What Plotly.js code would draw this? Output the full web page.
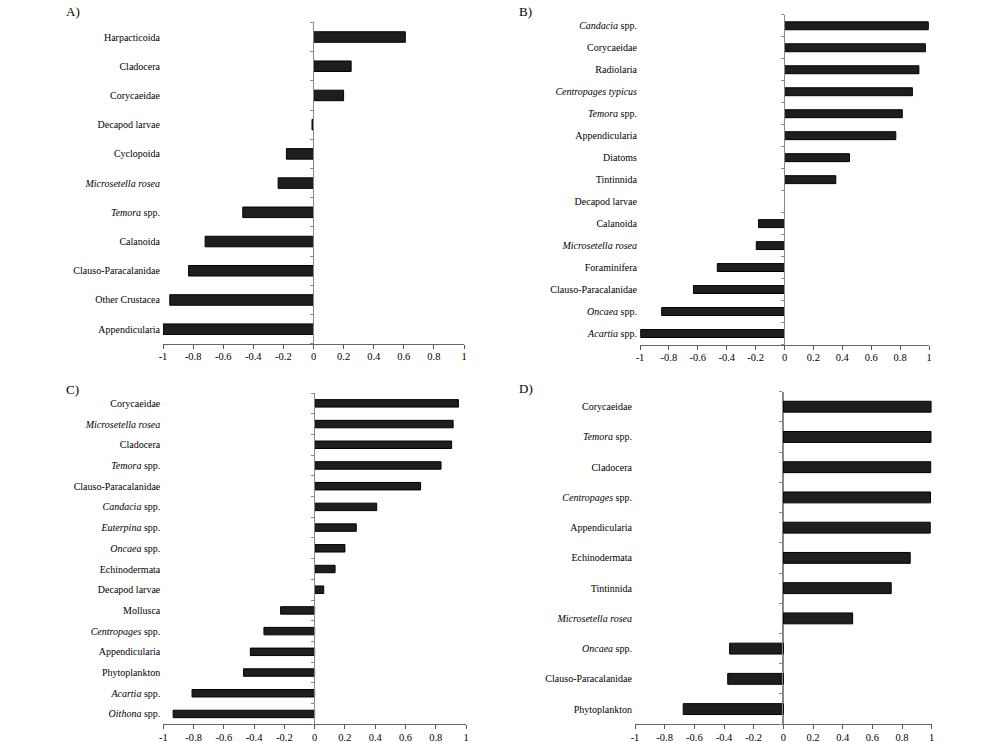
<!DOCTYPE html>
<html>
<head>
<meta charset="utf-8">
<script src="https://cdn.plot.ly/plotly-3.0.1.min.js"></script>
<style>html,body{margin:0;padding:0;background:#fff;}#chart{width:998px;height:742px;}</style>
</head>
<body>
<div id="chart"></div>
<script>
// ---- Data (top-to-bottom order as in the figure) ----
var catsA = ["Harpacticoida", "Cladocera", "Corycaeidae", "Decapod larvae", "Cyclopoida",
  "<i>Microsetella rosea</i>", "<i>Temora</i> spp.", "Calanoida", "Clauso-Paracalanidae",
  "Other Crustacea", "Appendicularia"];
var valsA = [0.61, 0.25, 0.20, -0.01, -0.18, -0.235, -0.47, -0.72, -0.83, -0.955, -1.0];

var catsB = ["<i>Candacia</i> spp.", "Corycaeidae", "Radiolaria", "<i>Centropages typicus</i>",
  "<i>Temora</i> spp.", "Appendicularia", "Diatoms", "Tintinnida", "Decapod larvae", "Calanoida",
  "<i>Microsetella rosea</i>", "Foraminifera", "Clauso-Paracalanidae", "<i>Oncaea</i> spp.",
  "<i>Acartia</i> spp."];
var valsB = [0.995, 0.975, 0.93, 0.885, 0.815, 0.77, 0.45, 0.355, 0, -0.18, -0.195, -0.465,
  -0.63, -0.85, -0.995];

var catsC = ["Corycaeidae", "<i>Microsetella rosea</i>", "Cladocera", "<i>Temora</i> spp.",
  "Clauso-Paracalanidae", "<i>Candacia</i> spp.", "<i>Euterpina</i> spp.", "<i>Oncaea</i> spp.",
  "Echinodermata", "Decapod larvae", "Mollusca", "<i>Centropages</i> spp.", "Appendicularia",
  "Phytoplankton", "<i>Acartia</i> spp.", "<i>Oithona</i> spp."];
var valsC = [0.95, 0.915, 0.905, 0.835, 0.70, 0.41, 0.275, 0.20, 0.135, 0.06, -0.225, -0.335,
  -0.425, -0.47, -0.81, -0.935];

var catsD = ["Corycaeidae", "<i>Temora</i> spp.", "Cladocera", "<i>Centropages</i> spp.",
  "Appendicularia", "Echinodermata", "Tintinnida", "<i>Microsetella rosea</i>",
  "<i>Oncaea</i> spp.", "Clauso-Paracalanidae", "Phytoplankton"];
var valsD = [0.997, 0.996, 0.994, 0.992, 0.99, 0.855, 0.727, 0.467, -0.362, -0.375, -0.675];

var panelLabels = ["A)", "B)", "C)", "D)"];
var xTickVals = [-1, -0.8, -0.6, -0.4, -0.2, 0, 0.2, 0.4, 0.6, 0.8, 1];
var xTickText = ["-1", "-0.8", "-0.6", "-0.4", "-0.2", "0", "0.2", "0.4", "0.6", "0.8", "1"];

// ---- Layout helpers ----
var W = 998, H = 742;
var FONT = "Liberation Serif, Times New Roman, serif";
var panels = [
  {cats: catsA, vals: valsA, x0: 163, x1: 464, yTop: 22.4, yBot: 343.8, lx: 64, ly: 12},
  {cats: catsB, vals: valsB, x0: 640, x1: 929, yTop: 14.8, yBot: 344.5, lx: 517, ly: 12},
  {cats: catsC, vals: valsC, x0: 163.3, x1: 466, yTop: 393, yBot: 724.3, lx: 64, ly: 389},
  {cats: catsD, vals: valsD, x0: 635, x1: 931.7, yTop: 391.6, yBot: 724.2, lx: 517, ly: 388}
];

var data = [];
var layout = {
  width: W, height: H,
  margin: {l: 0, r: 0, t: 0, b: 0},
  paper_bgcolor: "#fff", plot_bgcolor: "rgba(0,0,0,0)",
  showlegend: false,
  bargap: 0.64,
  font: {family: FONT, size: 10, color: "#000"},
  annotations: []
};

panels.forEach(function (p, i) {
  var n = p.cats.length;
  var xs = i === 0 ? "" : String(i + 1);
  var ys = xs;
  var zs = String(i + 5);
  data.push({
    type: "bar", orientation: "h",
    x: p.vals, y: p.cats,
    xaxis: "x" + xs, yaxis: "y" + ys,
    marker: {color: "#1e1e1e",
      line: {color: "#000", width: p.vals.map(function (v) { return v === 0 ? 0 : 1; })}},
    hoverinfo: "x+y"
  });
  // empty trace (no marks) so the helper axis pair gets its own subplot
  data.push({type: "scatter", mode: "markers", x: [], y: [],
    xaxis: "x" + zs, yaxis: "y" + zs, hoverinfo: "skip"});
  var xd = [p.x0 / W, p.x1 / W];
  var yd = [1 - p.yBot / H, 1 - p.yTop / H];
  var mid = (xd[0] + xd[1]) / 2;
  layout["xaxis" + xs] = {
    domain: xd, anchor: "y" + ys, range: [-1, 1],
    tickmode: "array", tickvals: xTickVals, ticktext: xTickText,
    ticks: "outside", ticklen: 4, tickwidth: 1, tickcolor: "#555",
    ticklabelstandoff: -1,
    showline: true, linecolor: "#666", linewidth: 1,
    showgrid: false,
    zeroline: true, zerolinecolor: "#888", zerolinewidth: 1,
    tickfont: {family: FONT, size: 10.5, color: "#000"},
    fixedrange: true
  };
  layout["yaxis" + ys] = {
    domain: yd, anchor: "x" + xs, type: "category",
    categoryorder: "array", categoryarray: p.cats,
    range: [n - 0.5, -0.5],
    showline: false, ticks: "", showgrid: false, zeroline: false,
    ticklabelstandoff: 2,
    tickfont: {family: FONT, size: 10, color: "#000"},
    fixedrange: true
  };
  // helper subplot whose left edge sits at x = 0: ticks between categories
  var bounds = [];
  for (var k = 0; k <= n; k++) bounds.push(k - 0.5);
  layout["xaxis" + zs] = {
    domain: [mid, xd[1]], anchor: "y" + zs, range: [0, 1],
    showline: false, showticklabels: false, ticks: "", showgrid: false, zeroline: false,
    fixedrange: true
  };
  layout["yaxis" + zs] = {
    domain: yd, anchor: "x" + zs, side: "left",
    range: [n - 0.5, -0.5],
    tickmode: "array", tickvals: bounds, showticklabels: false,
    ticks: "outside", ticklen: 3, tickcolor: "#888", tickwidth: 1,
    showline: true, linecolor: "#888", linewidth: 1,
    showgrid: false, zeroline: false, fixedrange: true
  };
  layout.annotations.push({
    xref: "paper", yref: "paper", x: p.lx / W, y: 1 - p.ly / H,
    xanchor: "left", yanchor: "middle", showarrow: false,
    text: panelLabels[i], font: {family: FONT, size: 13, color: "#000"}
  });
});

Plotly.newPlot("chart", data, layout, {displayModeBar: false, staticPlot: true});
</script>
</body>
</html>
